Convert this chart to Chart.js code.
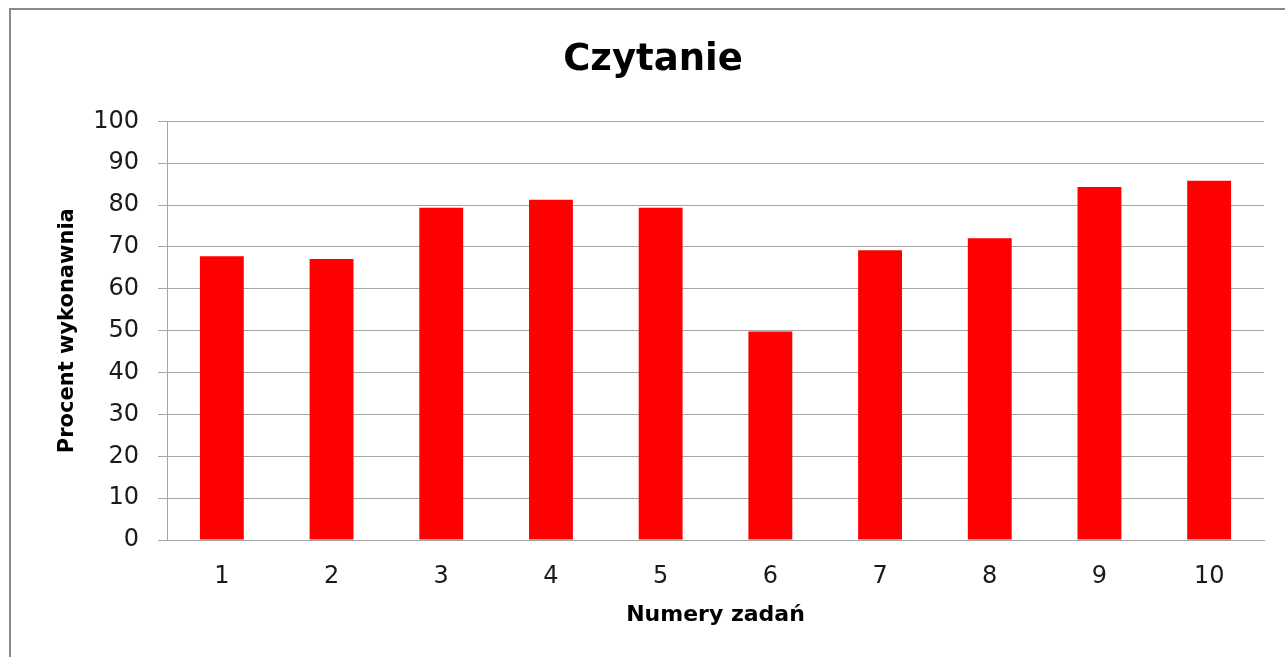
<!DOCTYPE html>
<html>
<head>
<meta charset="utf-8">
<script src="https://cdn.jsdelivr.net/npm/chart.js@4/dist/chart.umd.min.js"></script>
<style>
	html, body { margin: 0; padding: 0; background: #fff; }
	body { width: 1285px; height: 657px; position: relative; overflow: hidden; }
	#chart { position: absolute; left: 0; top: 0; }
	#frame {
		position: absolute; left: 9px; top: 8px; width: 1400px; height: 800px;
		border-top: 2px solid #8a8a8a; border-left: 2px solid #8a8a8a;
		pointer-events: none;
	}
</style>
</head>
<body>
<canvas id="chart" width="1285" height="657"></canvas>
<div id="frame"></div>
<script>
// dane wykresu
const categories = ['1', '2', '3', '4', '5', '6', '7', '8', '9', '10'];
const values = [67.8, 67.1, 79.4, 81.3, 79.4, 49.8, 69.2, 72.1, 84.3, 85.8];
const chartTitle = 'Czytanie';
const xTitle = 'Numery zadań';
const yTitle = 'Procent wykonawnia';

const fontFamily = '"DejaVu Sans", sans-serif';
const gridColor = '#a6a6a6';

const ctx = document.getElementById('chart').getContext('2d');

const config = {
	type: 'bar',
	data: {
		labels: categories,
		datasets: [{
			data: values,
			backgroundColor: '#ff0000',
			borderWidth: 0,
			barPercentage: 0.4,
			categoryPercentage: 1.0
		}]
	},
	options: {
		responsive: false,
		animation: false,
		devicePixelRatio: 1,
		// lewy margines przesuwa środek tytułu na ~653 px
		layout: { padding: { left: 42, right: 21, top: 0, bottom: 0 } },
		plugins: {
			legend: { display: false },
			tooltip: { enabled: false },
			title: {
				display: true,
				text: chartTitle,
				color: '#000',
				font: { family: fontFamily, size: 37, weight: 'bold' },
				padding: { top: 38, bottom: 39 }
			}
		},
		scales: {
			x: {
				grid: { display: false, drawTicks: false },
				border: { display: true, color: gridColor },
				ticks: {
					color: '#1a1a1a',
					font: { family: fontFamily, size: 24 },
					padding: 22,
					maxRotation: 0
				},
				title: {
					display: true,
					text: xTitle,
					color: '#000',
					font: { family: fontFamily, size: 22, weight: 'bold' },
					padding: { top: 0, bottom: 29 }
				},
				afterFit: (scale) => { scale.height = 117; }
			},
			y: {
				min: 0,
				max: 100,
				grid: { color: gridColor, tickLength: 9, drawTicks: true },
				border: { display: true, color: gridColor },
				ticks: {
					stepSize: 10,
					color: '#1a1a1a',
					font: { family: fontFamily, size: 24 },
					padding: 19
				},
				title: {
					display: true,
					text: yTitle,
					color: '#000',
					font: { family: fontFamily, size: 21, weight: 'bold' },
					padding: { top: 13, bottom: 0 }
				},
				afterFit: (scale) => { scale.width = 125; }
			}
		}
	}
};

const chart = new Chart(ctx, config);
</script>
</body>
</html>
